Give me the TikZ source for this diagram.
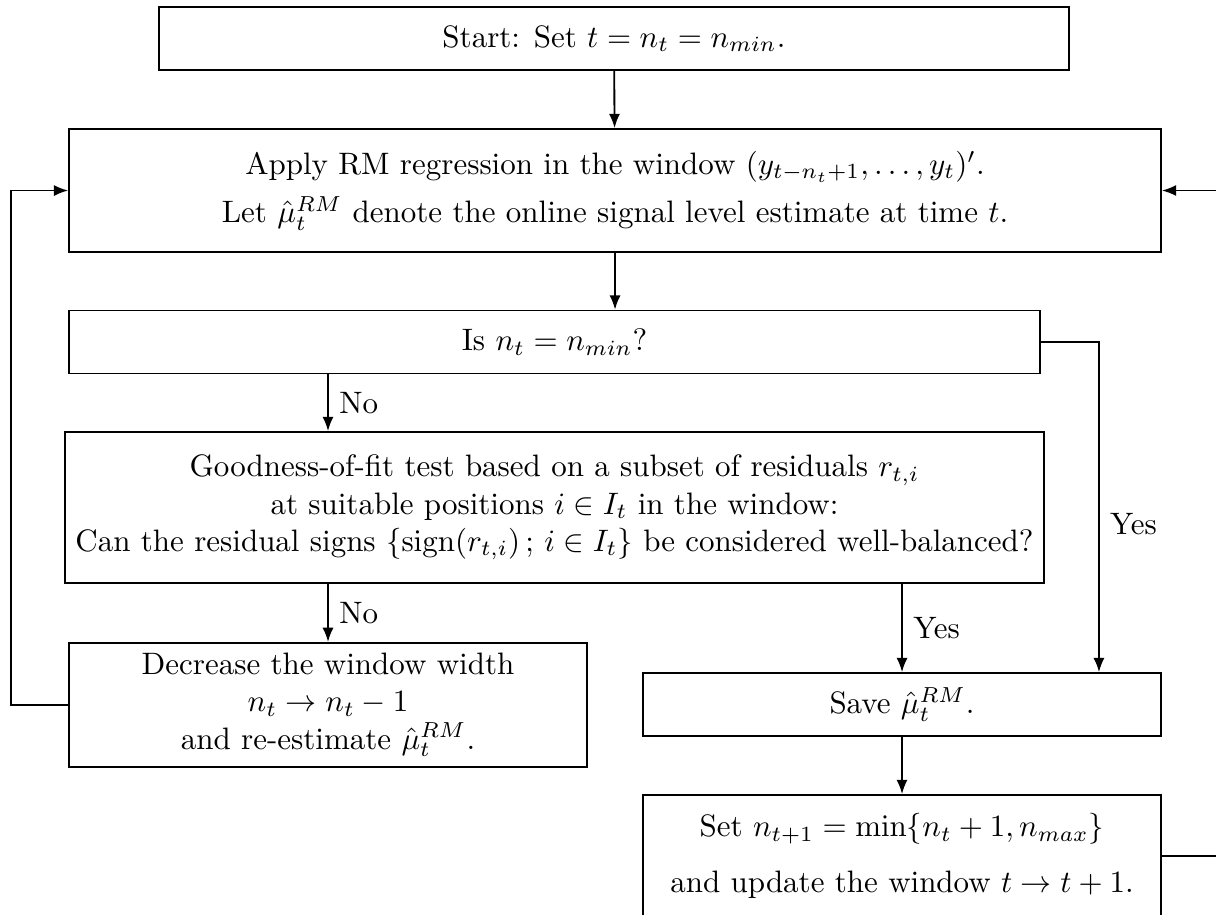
\documentclass[tikz,border=0pt]{standalone}
\usepackage{amsmath}
\usetikzlibrary{arrows.meta}

\begin{document}
\begin{tikzpicture}[
  box/.style={draw, semithick, align=center, minimum height=0.714cm},
  arr/.style={semithick, -{Latex[length=4.6pt,width=3.6pt]}}
]
\clip (0,0) rectangle (13.787,-10.374);

\node[box, minimum width=10.32cm] (start) at (6.961,-0.437) {Start: Set $t = n_t = n_{min}$.};

\node[box, minimum width=12.38cm, minimum height=1.395cm] (rm) at (6.973,-2.160)
  {Apply RM regression in the window $(y_{t-n_t+1},\ldots,y_t)'$.\\[3.5pt]
   Let $\hat{\mu}_t^{RM}$ denote the online signal level estimate at time $t$.};

\node[box, minimum width=11.01cm] (is) at (6.287,-3.878) {Is $n_t = n_{min}$?};

\node[box, minimum width=11.01cm, minimum height=1.712cm] (gof) at (6.287,-5.754)
  {Goodness-of-fit test based on a subset of residuals $r_{t,i}$\\
   at suitable positions $i \in I_t$ in the window:\\
   Can the residual signs $\{\mathrm{sign}(r_{t,i})\,;\, i \in I_t\}$ be considered well-balanced?};

\node[box, minimum width=5.873cm, minimum height=1.406cm] (dec) at (3.719,-7.993)
  {Decrease the window width\\ $n_t \rightarrow n_t - 1$\\ and re-estimate $\hat{\mu}_t^{RM}$.};

\node[box, minimum width=5.873cm] (save) at (10.227,-7.988) {Save $\hat{\mu}_t^{RM}$.};

\node[box, minimum width=5.873cm, minimum height=1.383cm] (upd) at (10.227,-9.705)
  {Set $n_{t+1} = \min\{n_t+1, n_{max}\}$\\[6pt]
   and update the window $t \rightarrow t+1$.};

\coordinate (lft) at (0.121,0);
\coordinate (yes) at (12.46,0);
\coordinate (rgt) at (14.4,0);

\draw[arr] (start) -- (rm);
\draw[arr] (rm.south) -- (rm.south |- is.north);

\draw[arr] (is.south -| dec.north) -- (gof.north -| dec.north) node[midway, right] (no1) {No};
\draw[arr] (gof.south -| dec.north) -- (dec.north) node[midway, right] (no2) {No};
\draw[arr] (gof.south -| save.north) -- (save.north) node[midway, right] (yes1) {Yes};

\draw[arr] (is.east) -- (is.east -| yes) -- (yes |- save.north) node[pos=.55, right] (yes2) {Yes};

\draw[arr] (save) -- (upd);

\draw[arr] (dec.west) -- (dec.west -| lft) |- (rm.west);
\draw[arr] (upd.east) -- (upd.east -| rgt) |- (rm.east);

\end{tikzpicture}
\end{document}
